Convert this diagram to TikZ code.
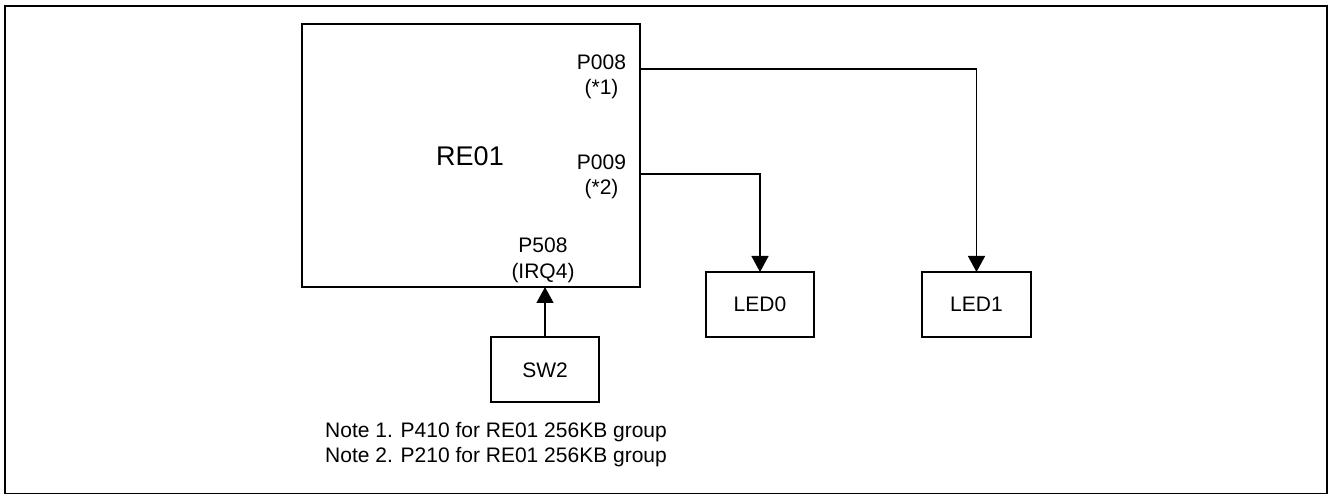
\documentclass[tikz,border=0pt]{standalone}
\usepackage{fontspec}
\setmainfont{Liberation Sans}
\usetikzlibrary{arrows.meta,calc}
\begin{document}
\begin{tikzpicture}[x=1pt,y=-1pt,
  box/.style={draw,line width=1.7pt,inner sep=0pt,outer sep=0pt},
  lbl/.style={font=\fontsize{21}{26}\selectfont,inner sep=0pt,anchor=base},
  arr/.style={line width=1.4pt,-{Triangle[width=17pt,length=16pt]}},
  wire/.style={line width=1.4pt}]
\useasboundingbox (0,0) rectangle (1328,494);
\draw[line width=2pt] (5,6) rectangle (1327,494);
% boxes
\node[box,minimum width=338pt,minimum height=263pt] (mcu) at (471,155.5) {};
\node[box,minimum width=108pt,minimum height=65pt] (led0) at (760,304.5) {};
\node[box,minimum width=109pt,minimum height=65pt] (led1) at (976.5,304.5) {};
\node[box,minimum width=108pt,minimum height=65pt] (sw2) at (545,369.5) {};
% texts
\node[lbl,font=\fontsize{27}{32}\selectfont] (re01) at (470,166) {RE01};
\node[lbl] (p008) at (601.5,69.5) {P008};
\node[lbl] (n1) at (601.5,95) {(*1)};
\node[lbl] (p009) at (601.5,169.5) {P009};
\node[lbl] (n2) at (601.5,195) {(*2)};
\node[lbl] (p508) at (543,252.5) {P508};
\node[lbl] (irq4) at (543,279) {(IRQ4)};
\node[lbl] (t0) at ($(led0)+(0,7.5)$) {LED0};
\node[lbl] (t1) at ($(led1)+(0,7.5)$) {LED1};
\node[lbl] (tsw) at ($(sw2)+(0,7.5)$) {SW2};
\node[lbl,anchor=base west] (note1) at (325,437.5) {Note 1. P410 for RE01 256KB group};
\node[lbl,anchor=base west] (note2) at (325,462.5) {Note 2. P210 for RE01 256KB group};
% connectors
\coordinate (p8) at (640,69);
\coordinate (p9) at (640,174);
\draw[arr] (p8) -| (led1.north);
\draw[arr] (p9) -| (led0.north);
\draw[arr] (sw2.north) -- (sw2.north |- mcu.south);
\end{tikzpicture}
\end{document}
